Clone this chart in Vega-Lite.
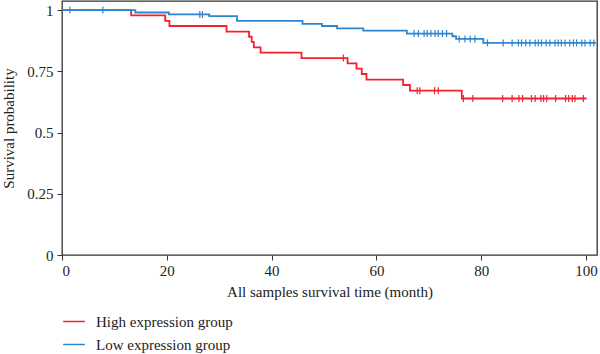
{
  "$schema": "https://vega.github.io/schema/vega-lite/v6.json",
  "autosize": {"type": "none"},
  "width": 535,
  "height": 254,
  "padding": {"left": 62, "top": 1, "right": 3, "bottom": 99},
  "background": "white",
  "config": {
    "font": "Liberation Serif",
    "view": {"stroke": "#333333", "strokeWidth": 1.3},
    "axis": {
      "domain": false,
      "grid": false,
      "tickColor": "#333333",
      "tickSize": 5,
      "labelFont": "Liberation Serif",
      "labelFontSize": 15,
      "labelColor": "#222222",
      "titleFont": "Liberation Serif",
      "titleFontSize": 15,
      "titleFontWeight": "normal",
      "titleColor": "#222222"
    },
    "legend": {
      "labelFont": "Liberation Serif",
      "labelFontSize": 15,
      "labelColor": "#222222"
    }
  },
  "data": {
    "values": [
      {"group": "High expression group", "kind": "event", "time": 0, "surv": 1},
      {"group": "High expression group", "kind": "event", "time": 13.2, "surv": 0.978},
      {"group": "High expression group", "kind": "event", "time": 19.7, "surv": 0.956},
      {"group": "High expression group", "kind": "event", "time": 20.5, "surv": 0.935},
      {"group": "High expression group", "kind": "event", "time": 31.4, "surv": 0.912},
      {"group": "High expression group", "kind": "event", "time": 35.7, "surv": 0.891},
      {"group": "High expression group", "kind": "event", "time": 36.2, "surv": 0.87},
      {"group": "High expression group", "kind": "event", "time": 36.6, "surv": 0.848},
      {"group": "High expression group", "kind": "event", "time": 37.9, "surv": 0.826},
      {"group": "High expression group", "kind": "event", "time": 45.7, "surv": 0.804},
      {"group": "High expression group", "kind": "event", "time": 54.5, "surv": 0.782},
      {"group": "High expression group", "kind": "event", "time": 56.2, "surv": 0.761},
      {"group": "High expression group", "kind": "event", "time": 57.2, "surv": 0.739},
      {"group": "High expression group", "kind": "event", "time": 58.1, "surv": 0.716},
      {"group": "High expression group", "kind": "event", "time": 65.1, "surv": 0.694},
      {"group": "High expression group", "kind": "event", "time": 66.4, "surv": 0.671},
      {"group": "High expression group", "kind": "event", "time": 76.3, "surv": 0.639},
      {"group": "High expression group", "kind": "event", "time": 100.1, "surv": 0.639},
      {"group": "High expression group", "kind": "censor", "time": 53.7, "surv": 0.804},
      {"group": "High expression group", "kind": "censor", "time": 67.8, "surv": 0.671},
      {"group": "High expression group", "kind": "censor", "time": 68.3, "surv": 0.671},
      {"group": "High expression group", "kind": "censor", "time": 71.1, "surv": 0.671},
      {"group": "High expression group", "kind": "censor", "time": 71.8, "surv": 0.671},
      {"group": "High expression group", "kind": "censor", "time": 76.6, "surv": 0.639},
      {"group": "High expression group", "kind": "censor", "time": 78.4, "surv": 0.639},
      {"group": "High expression group", "kind": "censor", "time": 84.1, "surv": 0.639},
      {"group": "High expression group", "kind": "censor", "time": 85.9, "surv": 0.639},
      {"group": "High expression group", "kind": "censor", "time": 87.2, "surv": 0.639},
      {"group": "High expression group", "kind": "censor", "time": 87.9, "surv": 0.639},
      {"group": "High expression group", "kind": "censor", "time": 89.6, "surv": 0.639},
      {"group": "High expression group", "kind": "censor", "time": 90.3, "surv": 0.639},
      {"group": "High expression group", "kind": "censor", "time": 91.4, "surv": 0.639},
      {"group": "High expression group", "kind": "censor", "time": 91.9, "surv": 0.639},
      {"group": "High expression group", "kind": "censor", "time": 92.5, "surv": 0.639},
      {"group": "High expression group", "kind": "censor", "time": 94.2, "surv": 0.639},
      {"group": "High expression group", "kind": "censor", "time": 96.1, "surv": 0.639},
      {"group": "High expression group", "kind": "censor", "time": 96.7, "surv": 0.639},
      {"group": "High expression group", "kind": "censor", "time": 97.4, "surv": 0.639},
      {"group": "High expression group", "kind": "censor", "time": 97.9, "surv": 0.639},
      {"group": "High expression group", "kind": "censor", "time": 99.5, "surv": 0.639},
      {"group": "Low expression group", "kind": "event", "time": 0, "surv": 1},
      {"group": "Low expression group", "kind": "event", "time": 14.0, "surv": 0.99},
      {"group": "Low expression group", "kind": "event", "time": 20.4, "surv": 0.982},
      {"group": "Low expression group", "kind": "event", "time": 28.1, "surv": 0.975},
      {"group": "Low expression group", "kind": "event", "time": 33.4, "surv": 0.956},
      {"group": "Low expression group", "kind": "event", "time": 45.9, "surv": 0.944},
      {"group": "Low expression group", "kind": "event", "time": 49.6, "surv": 0.935},
      {"group": "Low expression group", "kind": "event", "time": 52.5, "surv": 0.925},
      {"group": "Low expression group", "kind": "event", "time": 57.5, "surv": 0.916},
      {"group": "Low expression group", "kind": "event", "time": 65.8, "surv": 0.904},
      {"group": "Low expression group", "kind": "event", "time": 74.5, "surv": 0.893},
      {"group": "Low expression group", "kind": "event", "time": 75.2, "surv": 0.882},
      {"group": "Low expression group", "kind": "event", "time": 80.4, "surv": 0.866},
      {"group": "Low expression group", "kind": "event", "time": 101.9, "surv": 0.866},
      {"group": "Low expression group", "kind": "censor", "time": 1.5, "surv": 1},
      {"group": "Low expression group", "kind": "censor", "time": 7.8, "surv": 1},
      {"group": "Low expression group", "kind": "censor", "time": 26.3, "surv": 0.982},
      {"group": "Low expression group", "kind": "censor", "time": 26.8, "surv": 0.982},
      {"group": "Low expression group", "kind": "censor", "time": 67.2, "surv": 0.904},
      {"group": "Low expression group", "kind": "censor", "time": 68.0, "surv": 0.904},
      {"group": "Low expression group", "kind": "censor", "time": 69.1, "surv": 0.904},
      {"group": "Low expression group", "kind": "censor", "time": 69.7, "surv": 0.904},
      {"group": "Low expression group", "kind": "censor", "time": 70.4, "surv": 0.904},
      {"group": "Low expression group", "kind": "censor", "time": 71.2, "surv": 0.904},
      {"group": "Low expression group", "kind": "censor", "time": 71.8, "surv": 0.904},
      {"group": "Low expression group", "kind": "censor", "time": 72.6, "surv": 0.904},
      {"group": "Low expression group", "kind": "censor", "time": 73.4, "surv": 0.904},
      {"group": "Low expression group", "kind": "censor", "time": 75.8, "surv": 0.882},
      {"group": "Low expression group", "kind": "censor", "time": 76.9, "surv": 0.882},
      {"group": "Low expression group", "kind": "censor", "time": 77.9, "surv": 0.882},
      {"group": "Low expression group", "kind": "censor", "time": 78.8, "surv": 0.882},
      {"group": "Low expression group", "kind": "censor", "time": 81.2, "surv": 0.866},
      {"group": "Low expression group", "kind": "censor", "time": 84.2, "surv": 0.866},
      {"group": "Low expression group", "kind": "censor", "time": 85.9, "surv": 0.866},
      {"group": "Low expression group", "kind": "censor", "time": 87.1, "surv": 0.866},
      {"group": "Low expression group", "kind": "censor", "time": 87.7, "surv": 0.866},
      {"group": "Low expression group", "kind": "censor", "time": 88.5, "surv": 0.866},
      {"group": "Low expression group", "kind": "censor", "time": 89.3, "surv": 0.866},
      {"group": "Low expression group", "kind": "censor", "time": 90.3, "surv": 0.866},
      {"group": "Low expression group", "kind": "censor", "time": 90.9, "surv": 0.866},
      {"group": "Low expression group", "kind": "censor", "time": 91.5, "surv": 0.866},
      {"group": "Low expression group", "kind": "censor", "time": 92.4, "surv": 0.866},
      {"group": "Low expression group", "kind": "censor", "time": 93.1, "surv": 0.866},
      {"group": "Low expression group", "kind": "censor", "time": 94.1, "surv": 0.866},
      {"group": "Low expression group", "kind": "censor", "time": 94.7, "surv": 0.866},
      {"group": "Low expression group", "kind": "censor", "time": 95.3, "surv": 0.866},
      {"group": "Low expression group", "kind": "censor", "time": 96.0, "surv": 0.866},
      {"group": "Low expression group", "kind": "censor", "time": 96.9, "surv": 0.866},
      {"group": "Low expression group", "kind": "censor", "time": 97.6, "surv": 0.866},
      {"group": "Low expression group", "kind": "censor", "time": 98.2, "surv": 0.866},
      {"group": "Low expression group", "kind": "censor", "time": 99.2, "surv": 0.866},
      {"group": "Low expression group", "kind": "censor", "time": 99.8, "surv": 0.866},
      {"group": "Low expression group", "kind": "censor", "time": 100.8, "surv": 0.866},
      {"group": "Low expression group", "kind": "censor", "time": 101.5, "surv": 0.866}
    ]
  },
  "encoding": {
    "x": {
      "field": "time",
      "type": "quantitative",
      "scale": {"domain": [0, 102.1], "nice": false, "zero": false},
      "axis": {
        "values": [0, 20, 40, 60, 80, 100],
        "title": "All samples survival time (month)",
        "labelPadding": 3,
        "titlePadding": 6
      }
    },
    "y": {
      "field": "surv",
      "type": "quantitative",
      "scale": {"domain": [0, 1.037], "nice": false, "zero": false},
      "axis": {
        "values": [0, 0.25, 0.5, 0.75, 1],
        "labelExpr": "'' + datum.value",
        "title": "Survival probability",
        "labelPadding": 4,
        "titlePadding": 10
      }
    },
    "color": {
      "field": "group",
      "type": "nominal",
      "scale": {
        "domain": ["High expression group", "Low expression group"],
        "range": ["#f4202d", "#2d86cf"]
      },
      "legend": {
        "title": null,
        "orient": "none",
        "legendX": 0,
        "legendY": 313,
        "direction": "vertical",
        "symbolType": "stroke",
        "symbolSize": 470,
        "symbolStrokeWidth": 1.5,
        "clipHeight": 15,
        "rowPadding": 7,
        "labelOffset": 10,
        "padding": 0
      }
    }
  },
  "layer": [
    {
      "transform": [{"filter": "datum.kind === 'event'"}],
      "mark": {"type": "line", "interpolate": "step-after", "strokeWidth": 1.8}
    },
    {
      "transform": [{"filter": "datum.kind === 'censor'"}],
      "mark": {"type": "tick", "orient": "vertical", "size": 7, "thickness": 1.2, "opacity": 1}
    }
  ]
}
